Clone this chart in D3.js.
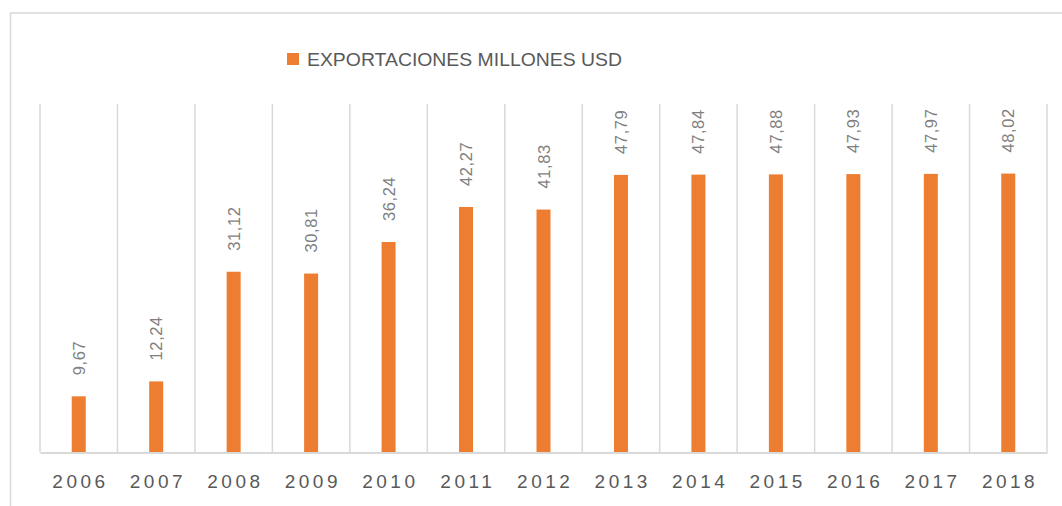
<!DOCTYPE html>
<html><head><meta charset="utf-8">
<script src="https://cdn.jsdelivr.net/npm/d3@7/dist/d3.min.js"></script>
<style>body{margin:0;background:#fff;} svg{display:block;}</style>
</head><body>
<svg id="c" width="1062" height="506"></svg>
<script>
const years = ["2006","2007","2008","2009","2010","2011","2012","2013","2014","2015","2016","2017","2018"];
const exportsUSD = [9.67,12.24,31.12,30.81,36.24,42.27,41.83,47.79,47.84,47.88,47.93,47.97,48.02];
const seriesName = "EXPORTACIONES MILLONES USD";
const yDomain = [0, 60];

const svg = d3.select("#c");
const fmt = v => v.toFixed(2).replace(".", ",");
const plot = {left: 40, right: 1047, top: 104, bottom: 452.5};

// chart border
svg.append("path").attr("d", "M10.5,506 V13 H1062").attr("fill","none").attr("stroke","#d9d9d9").attr("stroke-width",1.5);

const x = d3.scaleBand().domain(years).range([plot.left, plot.right]).paddingInner(0).paddingOuter(0);
const y = d3.scaleLinear().domain(yDomain).range([plot.bottom, plot.top]);

// vertical gridlines at band boundaries
const bounds = years.map(d => x(d)).concat([plot.right]);
svg.append("g").selectAll("line").data(bounds).join("line")
  .attr("x1", d => d).attr("x2", d => d)
  .attr("y1", plot.top).attr("y2", plot.bottom)
  .attr("stroke", "#d9d9d9").attr("stroke-width", 1.5);

// bars
const bw = 14;
svg.append("g").selectAll("rect").data(exportsUSD).join("rect")
  .attr("x", (d,i) => x(years[i]) + x.bandwidth()/2 - bw/2)
  .attr("width", bw)
  .attr("y", d => y(d))
  .attr("height", d => y(0) - y(d))
  .attr("fill", "#ed7d31");

// x axis
const xAxis = d3.axisBottom(x).tickSize(0).tickPadding(0);
const gx = svg.append("g").attr("transform", `translate(0,${plot.bottom})`).call(xAxis);
gx.select(".domain").attr("stroke", "#d9d9d9").attr("stroke-width", 2);
gx.selectAll("text")
  .attr("dy", 0).attr("y", 35.5)
  .attr("font-family", "Liberation Sans, Arial, sans-serif")
  .attr("font-size", 19).attr("fill", "#595959")
  .attr("letter-spacing", "3.5px")
  .attr("dx", "1.75px");

// data labels (rotated)
svg.append("g").selectAll("text").data(exportsUSD).join("text")
  .attr("transform", (d,i) => `translate(${x(years[i]) + x.bandwidth()/2 + 6},${y(d) - 21}) rotate(-90)`)
  .attr("text-anchor", "start")
  .attr("font-family", "Liberation Sans, Arial, sans-serif")
  .attr("font-size", 16.5).attr("fill", "#7f7f7f")
  .attr("letter-spacing", "0.6px")
  .text(d => fmt(d));

// legend
const lg = svg.append("g");
lg.append("rect").attr("x", 287).attr("y", 53).attr("width", 12).attr("height", 12).attr("fill", "#ed7d31");
lg.append("text").attr("x", 307).attr("y", 65.5)
  .attr("font-family", "Liberation Sans, Arial, sans-serif")
  .attr("font-size", 18).attr("fill", "#595959")
  .attr("textLength", 315).attr("lengthAdjust", "spacingAndGlyphs")
  .text(seriesName);
</script>
</body></html>
